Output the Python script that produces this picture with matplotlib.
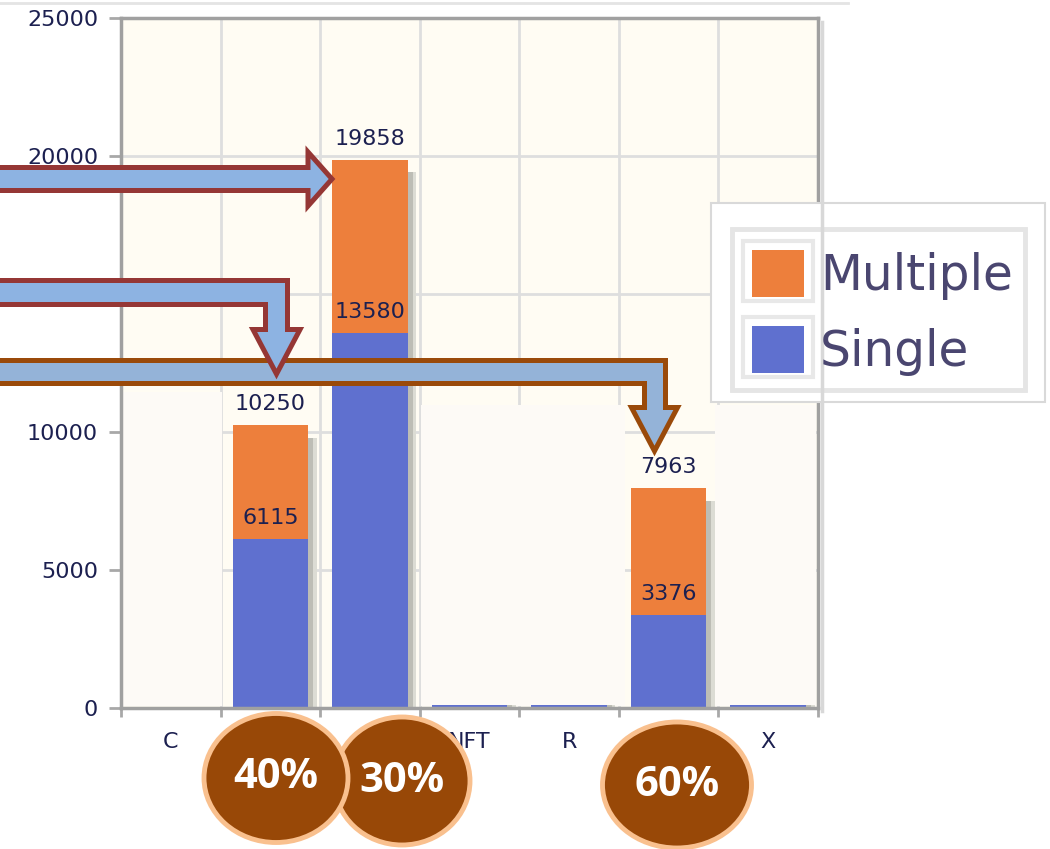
import numpy as np
import matplotlib
matplotlib.use("Agg")
import matplotlib.pyplot as plt
from matplotlib.patches import Rectangle, Polygon, Ellipse
from matplotlib.lines import Line2D

# data
categories = ["C", "", "", "NFT", "R", "", "X"]
single = np.array([45, 6115, 13580, 110, 100, 3376, 100])
total = np.array([45, 10250, 19858, 110, 100, 7963, 100])
multiple = total - single
labelled = [1, 2, 5]
series_names = ["Multiple", "Single"]
circle_texts = ["30%", "40%", "60%"]

blue = "#5f70cf"
orange = "#ed7f3c"
navy = "#1c2050"
W, H = 1050, 849


def fx(px):
    return px / W


def fy(py):
    return 1 - py / H


fig = plt.figure(figsize=(10.5, 8.49), dpi=100)
ax = fig.add_axes([fx(121), fy(708), (818 - 121) / W, (708 - 18) / H])
ax.set_facecolor("#fffcf3")

x = np.arange(len(categories))
ax.set_xlim(-0.5, 6.5)
ax.set_ylim(0, 25000)
ax.set_yticks(range(0, 25001, 5000))
ax.set_xticks(x)
ax.set_xticklabels(categories)
ax.set_xticks(np.arange(-0.5, 7, 1), minor=True)
ax.set_axisbelow(True)
ax.grid(True, which="minor", axis="x", color="#dedede", lw=2)
ax.grid(True, which="major", axis="y", color="#dedede", lw=2)
ax.tick_params(axis="x", which="major", length=0, pad=17, labelsize=16, labelcolor=navy)
ax.tick_params(axis="x", which="minor", length=6.5, width=2, color="#a8a8a8")
ax.tick_params(axis="y", length=8.5, width=2, color="#a8a8a8", pad=8, labelsize=16, labelcolor=navy)
for s in ax.spines.values():
    s.set_color("#a0a0a0")
    s.set_linewidth(2.5)

# pasted whitish patches over the plot area
for (x0, y0, x1, y1) in [(123, 392, 222, 706), (421, 405, 625, 706), (715, 405, 816, 706)]:
    ax.add_patch(Rectangle((fx(x0), fy(y1)), (x1 - x0) / W, (y1 - y0) / H,
                           transform=fig.transFigure, facecolor="#fdfaf6",
                           edgecolor="none", zorder=1))

# bars with soft shadow
shadow_h = np.where(total > 1000, total - 450, total)
ax.bar(x + 0.085, shadow_h, width=0.76, color="#dcdcd4", zorder=1.4)
ax.bar(x + 0.05, shadow_h, width=0.76, color="#bdbdb5", zorder=1.5)
ax.bar(x, single, width=0.76, color=blue, zorder=2)
ax.bar(x, multiple, bottom=single, width=0.76, color=orange, zorder=2)

for i in labelled:
    ax.annotate(str(total[i]), (x[i], total[i]), xytext=(0, 8), textcoords="offset points",
                ha="center", va="bottom", fontsize=16, color=navy, zorder=3)
    ax.annotate(str(single[i]), (x[i], single[i]), xytext=(0, 8), textcoords="offset points",
                ha="center", va="bottom", fontsize=16, color=navy, zorder=3)

# page line at the top and right-edge shadow
fig.add_artist(Line2D([0, fx(848)], [fy(3), fy(3)], color="#e4e4e4", lw=2))
fig.add_artist(Line2D([fx(821.5), fx(821.5)], [fy(22), fy(711)], color="#d8d8d8", lw=2.5))

# legend box
fig.add_artist(Rectangle((fx(711), fy(402)), 334 / W, 199 / H, transform=fig.transFigure,
                         facecolor="white", edgecolor="#d9d9d9", lw=1.5))
fig.add_artist(Rectangle((fx(732), fy(390)), 293 / W, 161 / H, transform=fig.transFigure,
                         facecolor="white", edgecolor="#e5e5e5", lw=3.5))
for k, (name, col, top) in enumerate(zip(series_names, [orange, blue], [239, 315])):
    fig.add_artist(Rectangle((fx(743), fy(top + 62)), 70 / W, 60 / H, transform=fig.transFigure,
                             facecolor="white", edgecolor="#e8e8e8", lw=3))
    fig.add_artist(Rectangle((fx(752), fy(top + 58)), 52 / W, 47 / H, transform=fig.transFigure,
                             facecolor=col, edgecolor="none"))
    fig.text(fx(820), fy(top + 51), name, fontsize=35, color="#4a4670", va="baseline", ha="left")

# block arrows
arrows = [
    ([(-10, 360.5), (665.5, 360.5), (665.5, 407.5), (677.5, 407.5), (654.5, 451),
      (631.5, 407.5), (644.5, 407.5), (644.5, 383.5), (-10, 383.5)], "#94b3d8", "#9a4a0a"),
    ([(-10, 280.5), (287.5, 280.5), (287.5, 329.5), (300, 329.5), (276.5, 374),
      (253, 329.5), (265.5, 329.5), (265.5, 304.5), (-10, 304.5)], "#8db3e2", "#953735"),
    ([(-10, 167.5), (308, 167.5), (308, 152), (332, 179), (308, 206),
      (308, 190.5), (-10, 190.5)], "#8db3e2", "#953735"),
]
for pts, fc, ec in arrows:
    fig.add_artist(Polygon([(fx(a), fy(b)) for a, b in pts], closed=True, transform=fig.transFigure,
                           facecolor=fc, edgecolor=ec, lw=3.6, joinstyle="miter"))

# percentage circles
circles = [(402, 781, 136, 128), (276, 778, 144, 129), (677, 785, 149, 126)]
for (cx, cy, w, h), t in zip(circles, circle_texts):
    fig.add_artist(Ellipse((fx(cx), fy(cy)), w / W, h / H, transform=fig.transFigure,
                           facecolor="#984807", edgecolor="#f9c08e", lw=3.5))
    fig.text(fx(cx), fy(cy), t, fontsize=30, fontweight="bold", family="Open Sans",
             color="white", ha="center", va="center")

fig.savefig("out.png", dpi=100)
